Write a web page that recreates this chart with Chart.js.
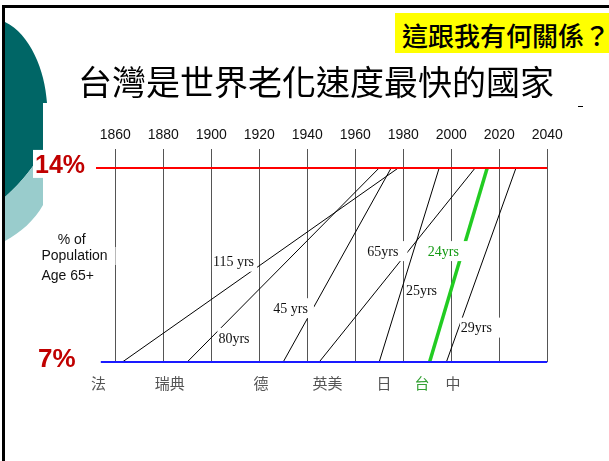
<!DOCTYPE html>
<html>
<head>
<meta charset="utf-8">
<script src="https://cdn.jsdelivr.net/npm/chart.js@4/dist/chart.umd.min.js"></script>
<style>
  html, body { margin: 0; padding: 0; background: #fff; }
  #slide { position: relative; width: 609px; height: 461px; overflow: hidden; background: #fff; }
  #deco, #chart { position: absolute; left: 0; top: 0; }
  .tag { position: absolute; left: 395px; top: 13px; width: 214px; height: 40px; background: #ffff00; }
  .tag span { position: absolute; left: 7px; top: 9px; font: 500 26px/26px "Noto Sans CJK TC"; color: #000; white-space: nowrap; }
  .title { position: absolute; left: 78px; top: 64px; font: 400 34px/34px "Noto Sans CJK TC"; color: #000; white-space: nowrap; }
  .dash { position: absolute; left: 578px; top: 106px; width: 5px; height: 1px; background: #000; }
</style>
</head>
<body>
<div id="slide">
  <svg id="deco" width="609" height="461">
    <path d="M5,22 C30,34 45,70 47,103 L43,103 L43,150 C35,165 22,182 5,197 Z" fill="#006666"/>
    <path d="M43,150 L43,205 C35,220 20,233 5,241 L5,197 C22,182 35,165 43,150 Z" fill="#99cccc"/>
    <rect x="2" y="5" width="607" height="3" fill="#000"/>
    <rect x="2" y="5" width="3" height="456" fill="#000"/>
  </svg>
  <canvas id="chart" width="609" height="461"></canvas>
  <div class="tag"><span>這跟我有何關係？</span></div>
  <div class="title">台灣是世界老化速度最快的國家</div>
  <div class="dash"></div>
</div>
<script>
// Years shown along the top axis
const tickYears = [1860, 1880, 1900, 1920, 1940, 1960, 1980, 2000, 2020, 2040];

// Countries, the year each reached 7% aged 65+, and years taken to reach 14%
const countries = ['法', '瑞典', '德', '英美', '日', '台', '中'];
const startYears = [1863, 1890, 1930, 1945, 1970, 1991, 1998];
const spanYears = [115, 80, 45, 65, 25, 24, 29];
const spanSep = [' ', '', ' ', '', '', '', ''];

// Threshold shares (% of population aged 65+)
const agedShare = 7;
const superAgedShare = 14;

// Horizontal threshold lines: share and first year drawn
const thresholdShares = [superAgedShare, agedShare];
const thresholdFrom = [1852, 1854];
const axisEnd = 2040;

// Placement of the annotation texts, in chart coordinates (year, share)
const spanLabelAt = [
  { x: 1909.3, y: 10.62, padR: 3 },
  { x: 1909.5, y: 7.87, padR: 3 },
  { x: 1933.1, y: 8.94, padR: 6 },
  { x: 1971.5, y: 11.0, padR: 9 },
  { x: 1987.6, y: 9.6, padR: 3 },
  { x: 1996.7, y: 11.0, padR: 9 },
  { x: 2010.5, y: 8.24, padR: 10 }
];
const countryLabelX = [1853, 1882.7, 1920.75, 1948.5, 1972, 1987.8, 2000.75];

const highlight = '台';
const lineColor = c => (c === highlight ? '#22cc22' : '#000000');
const lineWidth = c => (c === highlight ? 3.5 : 1);

const thresholdStyle = [
  { color: '#ff0000', width: 2 },
  { color: '#1a1aff', width: 2 }
];

const datasets = [
  ...thresholdShares.map((s, i) => ({
    label: s + '%',
    data: [{ x: thresholdFrom[i], y: s }, { x: axisEnd, y: s }],
    borderColor: thresholdStyle[i].color,
    borderWidth: thresholdStyle[i].width
  })),
  ...countries.map((c, i) => ({
    label: c,
    data: [
      { x: startYears[i], y: agedShare },
      { x: startYears[i] + spanYears[i], y: superAgedShare }
    ],
    borderColor: lineColor(c),
    borderWidth: lineWidth(c)
  }))
];

// Texts drawn on the plot: span labels, country names, thresholds and caption
const slideText = {
  id: 'slideText',
  afterDatasetsDraw(chart) {
    const { ctx, scales: { x, y } } = chart;
    ctx.save();

    // span labels on white boxes
    ctx.font = '14px "Liberation Serif"';
    ctx.textBaseline = 'middle';
    ctx.textAlign = 'left';
    spanYears.forEach((yrs, i) => {
      const text = yrs + spanSep[i] + 'yrs';
      const w = ctx.measureText(text).width;
      const pos = spanLabelAt[i];
      const cx = x.getPixelForValue(pos.x);
      const cy = y.getPixelForValue(pos.y);
      const left = cx - w / 2;
      ctx.fillStyle = '#ffffff';
      ctx.fillRect(left - 1, cy - 10, w + 1 + pos.padR, 20);
      ctx.fillStyle = countries[i] === highlight ? '#119911' : '#111111';
      ctx.fillText(text, left, cy + 1);
    });

    // country names under the 7% line
    ctx.font = '15px "Noto Sans CJK TC"';
    ctx.textAlign = 'center';
    const nameY = y.getPixelForValue(agedShare) + 21;
    countries.forEach((c, i) => {
      ctx.fillStyle = c === highlight ? '#33a033' : '#555555';
      ctx.fillText(c, x.getPixelForValue(countryLabelX[i]), nameY);
    });

    // threshold values on the left
    ctx.textAlign = 'left';
    ctx.fillStyle = '#ffffff';
    ctx.fillRect(33, y.getPixelForValue(superAgedShare) - 18, 55, 28);
    ctx.fillStyle = '#c00000';
    ctx.font = 'bold 25px "Liberation Sans"';
    ctx.fillText(superAgedShare + '%', 35, y.getPixelForValue(superAgedShare) - 2);
    ctx.font = 'bold 26px "Liberation Sans"';
    ctx.fillText(agedShare + '%', 38, y.getPixelForValue(agedShare) - 2);

    // caption for the vertical measure
    ctx.font = '14px "Liberation Sans"';
    ctx.textAlign = 'center';
    [['% of', 71.7, 240], ['Population', 74.5, 256], ['Age 65+', 67.7, 276]].forEach(([t, cx, cy]) => {
      const w = ctx.measureText(t).width;
      ctx.fillStyle = '#ffffff';
      ctx.fillRect(cx - w / 2 - 4, cy - 9, w + 12, 18);
      ctx.fillStyle = '#111111';
      ctx.fillText(t, cx, cy);
    });

    ctx.restore();
  }
};

new Chart(document.getElementById('chart'), {
  type: 'line',
  data: { datasets },
  options: {
    responsive: false,
    animation: false,
    devicePixelRatio: 1,
    layout: { padding: { left: 96, right: 61.8, top: 121.7, bottom: 99 } },
    elements: { point: { radius: 0 }, line: { tension: 0 } },
    datasets: { line: { clip: false } },
    plugins: { legend: { display: false }, tooltip: { enabled: false }, title: { display: false } },
    scales: {
      x: {
        type: 'linear',
        position: 'top',
        min: 1852,
        max: axisEnd,
        afterBuildTicks: s => { s.ticks = tickYears.map(v => ({ value: v })); },
        ticks: {
          padding: 5,
          maxRotation: 0,
          autoSkip: false,
          color: '#111',
          font: { family: '"Liberation Sans"', size: 14 },
          callback: v => String(v)
        },
        grid: { color: '#555555', lineWidth: 1, drawTicks: false },
        border: { display: false }
      },
      y: {
        type: 'linear',
        display: false,
        min: agedShare,
        max: 14.7
      }
    }
  },
  plugins: [slideText]
});
</script>
</body>
</html>
